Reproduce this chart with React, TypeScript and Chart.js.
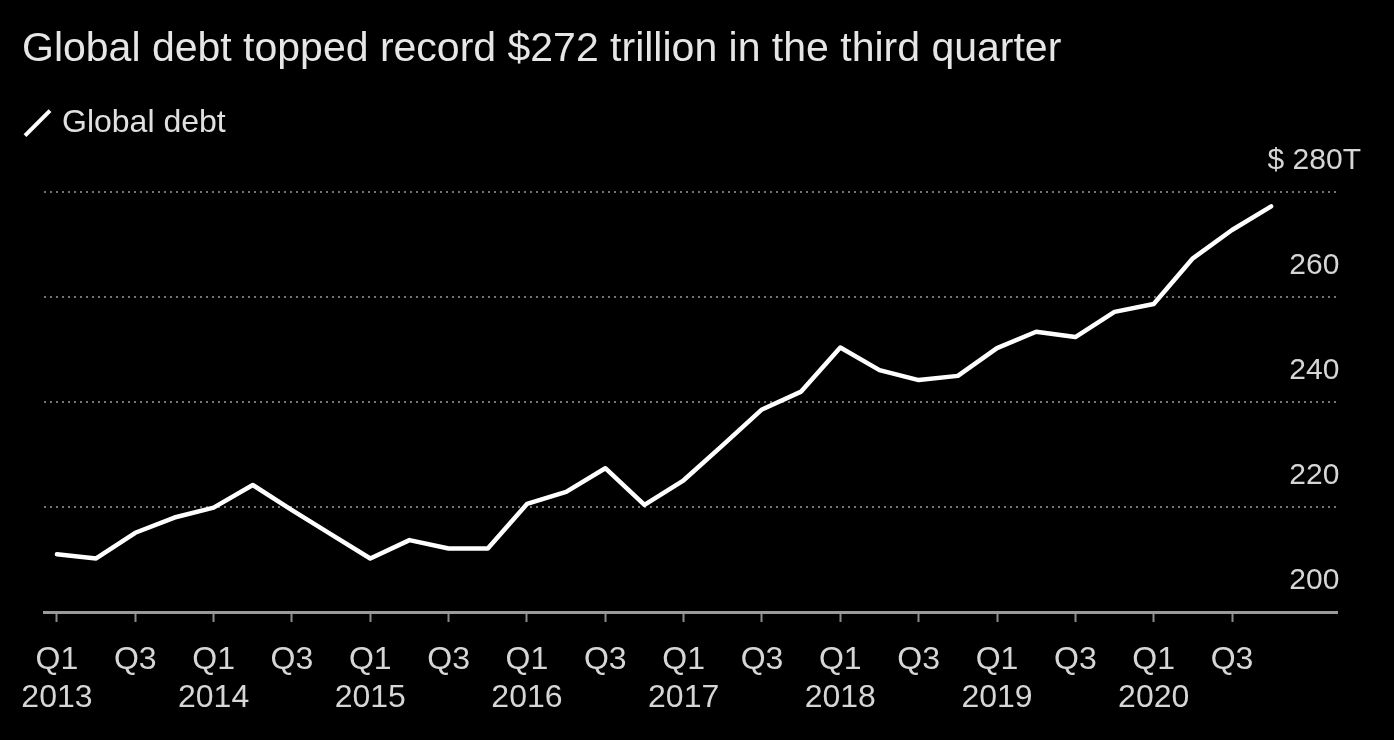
import { useEffect, useRef } from 'react';
import { Chart, registerables } from 'chart.js';

Chart.register(...registerables);

const titleText = 'Global debt topped record $272 trillion in the third quarter';
const seriesName = 'Global debt';

const periods = [
  '2013 Q1', '2013 Q2', '2013 Q3', '2013 Q4',
  '2014 Q1', '2014 Q2', '2014 Q3', '2014 Q4',
  '2015 Q1', '2015 Q2', '2015 Q3', '2015 Q4',
  '2016 Q1', '2016 Q2', '2016 Q3', '2016 Q4',
  '2017 Q1', '2017 Q2', '2017 Q3', '2017 Q4',
  '2018 Q1', '2018 Q2', '2018 Q3', '2018 Q4',
  '2019 Q1', '2019 Q2', '2019 Q3', '2019 Q4',
  '2020 Q1', '2020 Q2', '2020 Q3', '2020 Q4',
];

// Global debt, $ trillion
const debt = [
  211.0, 210.2, 215.1, 218.0,
  219.9, 224.2, 219.4, 214.8,
  210.2, 213.7, 212.1, 212.1,
  220.6, 222.9, 227.4, 220.4,
  225.1, 231.8, 238.6, 242.0,
  250.4, 246.1, 244.2, 245.0,
  250.3, 253.4, 252.4, 257.2,
  258.7, 267.4, 272.8, 277.3,
];

const xTickPeriods = [
  '2013 Q1', '2013 Q3', '2014 Q1', '2014 Q3', '2015 Q1', '2015 Q3',
  '2016 Q1', '2016 Q3', '2017 Q1', '2017 Q3', '2018 Q1', '2018 Q3',
  '2019 Q1', '2019 Q3', '2020 Q1', '2020 Q3',
];

const yTicks = [200, 220, 240, 260, 280];
const yTopLabel = '$ 280T';

const FONT = '"Liberation Sans", Arial, sans-serif';

export default function App() {
  const canvasRef = useRef<HTMLCanvasElement | null>(null);

  useEffect(() => {
    document.body.style.margin = '0';
    document.body.style.background = '#000';
    const canvas = canvasRef.current;
    if (!canvas) return;

    const points = debt.map((v, i) => ({ x: i, y: v }));
    const xTickIdx = xTickPeriods.map((p) => periods.indexOf(p));

    const chart = new Chart(canvas, {
      type: 'line',
      data: {
        datasets: [
          {
            label: seriesName,
            data: points,
            borderColor: '#ffffff',
            borderWidth: 4.5,
            borderJoinStyle: 'round',
            borderCapStyle: 'round',
            tension: 0,
            fill: false,
            pointRadius: 0,
            pointHoverRadius: 0,
            pointStyle: 'line',
            pointRotation: -45,
            pointBorderWidth: 4,
            pointBorderColor: '#ffffff',
          },
        ],
      },
      options: {
        animation: false,
        responsive: true,
        maintainAspectRatio: false,
        events: [],
        layout: { padding: { left: 22, right: 0, top: 0, bottom: 22 } },
        plugins: {
          title: {
            display: true,
            text: titleText,
            align: 'start',
            color: '#e6e6e6',
            font: { family: FONT, size: 41, weight: 'normal' },
            padding: { top: 25, bottom: 26 },
          },
          legend: {
            display: true,
            position: 'top',
            align: 'start',
            labels: {
              color: '#e0e0e0',
              font: { family: FONT, size: 32 },
              usePointStyle: true,
              boxWidth: 17,
              boxHeight: 25,
              padding: 7,
            },
          },
          tooltip: { enabled: false },
        },
        scales: {
          x: {
            type: 'linear',
            position: 'bottom',
            min: -0.33,
            max: 32.68,
            afterBuildTicks: (axis: any) => {
              axis.ticks = xTickIdx.map((v) => ({ value: v }));
            },
            ticks: {
              autoSkip: false,
              maxRotation: 0,
              color: '#d6d6d6',
              font: { family: FONT, size: 32 },
              padding: 19,
              callback: (value: any) => {
                const p = periods[Math.round(Number(value))];
                if (!p) return '';
                const [year, q] = p.split(' ');
                return q === 'Q1' ? [q, year] : [q];
              },
            },
            grid: {
              display: true,
              drawOnChartArea: false,
              drawTicks: true,
              tickLength: 10,
              tickColor: '#8c8c8c',
              tickWidth: 2,
            },
            border: { display: true, color: '#9a9a9a', width: 3 },
            afterFit: (axis: any) => {
              axis.height = 106;
            },
          },
          xPad: {
            type: 'linear',
            position: 'top',
            display: true,
            ticks: { display: false },
            grid: { display: false },
            border: { display: false },
            afterFit: (axis: any) => {
              axis.height = 43;
            },
          },
          y: {
            type: 'linear',
            position: 'right',
            min: yTicks[0],
            max: yTicks[yTicks.length - 1],
            afterBuildTicks: (axis: any) => {
              axis.ticks = yTicks.map((v) => ({ value: v }));
            },
            ticks: {
              color: '#d6d6d6',
              font: { family: FONT, size: 30 },
              mirror: true,
              crossAlign: 'center',
              padding: 24,
              labelOffset: -31,
              callback: (value: any) =>
                Number(value) === yTicks[yTicks.length - 1] ? yTopLabel : String(value),
            },
            grid: {
              color: '#747474',
              lineWidth: 2,
              drawTicks: false,
            },
            border: { display: false, dash: [2, 4] },
            afterFit: (axis: any) => {
              axis.width = 57;
            },
          },
          yPad: {
            type: 'linear',
            position: 'left',
            display: true,
            ticks: { display: false },
            grid: { display: false },
            border: { display: false },
            afterFit: (axis: any) => {
              axis.width = 22;
            },
          },
        },
      } as any,
    });

    return () => {
      chart.destroy();
    };
  }, []);

  return (
    <div style={{ position: 'relative', width: '1394px', height: '740px', background: '#000' }}>
      <canvas ref={canvasRef} />
    </div>
  );
}
